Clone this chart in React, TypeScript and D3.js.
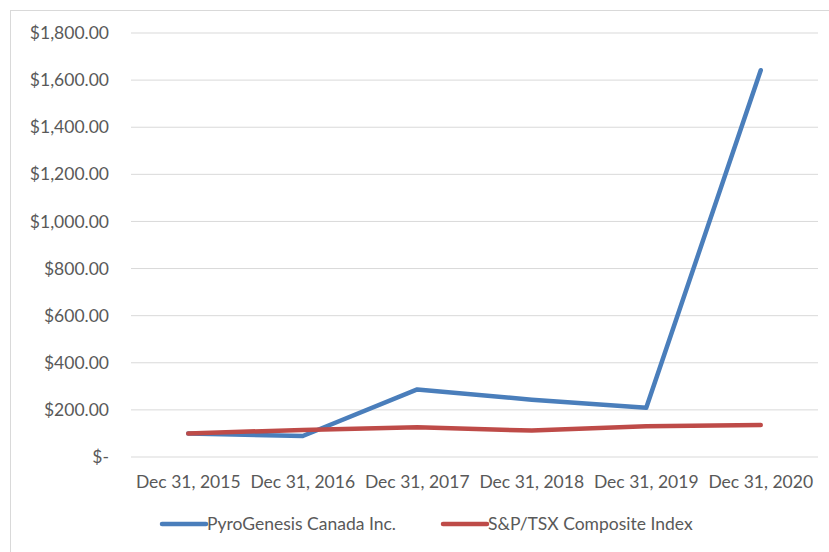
import React from "react";
import * as d3 from "d3";

const categories = ["Dec 31, 2015", "Dec 31, 2016", "Dec 31, 2017", "Dec 31, 2018", "Dec 31, 2019", "Dec 31, 2020"];
const pyroGenesis = [100, 89, 287, 243, 209, 1642];
const spTsx = [100, 115, 126, 112, 131, 136];
const yTicks = [0, 200, 400, 600, 800, 1000, 1200, 1400, 1600, 1800];

const seriesList = [
  { name: "PyroGenesis Canada Inc.", values: pyroGenesis, color: "#4a7ebb" },
  { name: "S&P/TSX Composite Index", values: spTsx, color: "#be4b48" },
];

const W = 829;
const H = 552;
const left = 131;
const right = 818;
const top = 33;
const bottom = 457;
const font = "Lato, 'Open Sans', sans-serif";
const fontSize = 17.5;

const fmt = (v: number) => (v === 0 ? "$-" : "$" + d3.format(",.2f")(v));

export default function App() {
  const x = d3.scaleBand<string>().domain(categories).range([left, right]);
  const y = d3.scaleLinear().domain([0, 1800]).range([bottom, top]);
  const line = d3
    .line<number>()
    .x((_, i) => (x(categories[i]) as number) + x.bandwidth() / 2)
    .y((d) => y(d));

  return (
    <svg width={W} height={H} style={{ position: "absolute", left: 0, top: 0, background: "#fff" }}>
      <rect x={10.5} y={10.5} width={840} height={560} fill="#fff" stroke="#d9d9d9" />
      {yTicks.map((t) => (
        <g key={t}>
          <line x1={left} x2={right} y1={y(t)} y2={y(t)} stroke="#d9d9d9" strokeWidth={1} />
          <text x={109} y={y(t)} dy="0.35em" textAnchor="end" fontFamily={font} fontSize={fontSize} fill="#595959">
            {fmt(t)}
          </text>
        </g>
      ))}
      {categories.map((c) => (
        <text
          key={c}
          x={(x(c) as number) + x.bandwidth() / 2}
          y={482}
          dy="0.35em"
          textAnchor="middle"
          fontFamily={font}
          fontSize={fontSize}
          fill="#595959"
        >
          {c}
        </text>
      ))}
      {seriesList.map((s) => (
        <path
          key={s.name}
          d={line(s.values) || ""}
          fill="none"
          stroke={s.color}
          strokeWidth={4.5}
          strokeLinecap="round"
          strokeLinejoin="round"
        />
      ))}
      {seriesList.map((s, i) => {
        const lx = i === 0 ? 162 : 443;
        return (
          <g key={s.name}>
            <line x1={lx} x2={lx + 44} y1={524} y2={524} stroke={s.color} strokeWidth={4.5} strokeLinecap="round" />
            <text x={lx + 45} y={524} dy="0.35em" fontFamily={font} fontSize={fontSize} fill="#595959">
              {s.name}
            </text>
          </g>
        );
      })}
    </svg>
  );
}
